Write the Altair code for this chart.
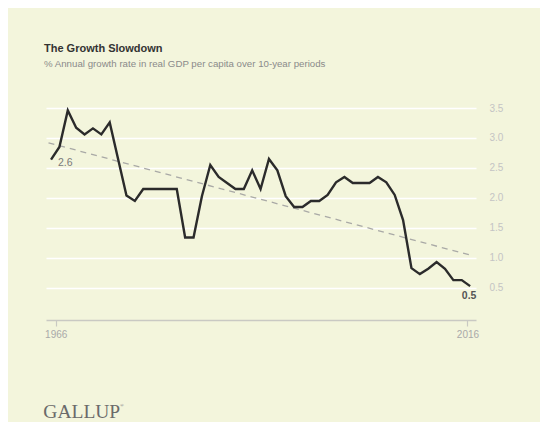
import altair as alt
import pandas as pd

years = list(range(1966, 2017))
growth = [2.64, 2.85, 3.46, 3.17, 3.06, 3.16, 3.06, 3.26, 2.65, 2.04,
          1.95, 2.15, 2.15, 2.15, 2.15, 2.15, 1.34, 1.34, 2.03, 2.55,
          2.35, 2.25, 2.15, 2.15, 2.46, 2.15, 2.65, 2.46, 2.03, 1.85,
          1.85, 1.95, 1.95, 2.05, 2.26, 2.35, 2.25, 2.25, 2.25, 2.35,
          2.26, 2.05, 1.63, 0.83, 0.73, 0.82, 0.93, 0.82, 0.63, 0.63,
          0.53]

trend_years = [1965.7, 2016.2]
trend_values = [2.92, 1.04]

note_years = [1966, 2016]
note_values = [2.64, 0.53]
note_labels = ["2.6", "0.5"]

y_ticks = [0.5, 1.0, 1.5, 2.0, 2.5, 3.0, 3.5]
x_tick_positions = [1966.56, 2015.68]

TITLE = "The Growth Slowdown"
SUBTITLE = "% Annual growth rate in real GDP per capita over 10-year periods"
BG = "#f3f5dc"
FONT = "Liberation Sans"

df = pd.DataFrame({"year": years, "growth": growth})
trend = pd.DataFrame({"year": trend_years, "growth": trend_values})
notes = pd.DataFrame({"year": note_years, "growth": note_values, "label": note_labels})
one = pd.DataFrame({"k": [0]})

xscale = alt.Scale(domain=[1965.4, 2016.7], nice=False, zero=False)
yscale = alt.Scale(domain=[-0.035, 3.5], nice=False, zero=False)

x_axis = alt.Axis(
    values=x_tick_positions,
    labelExpr="datum.value < 1990 ? '1966' : '2016'",
    title=None, grid=False, domainColor="#c9c9c3", domainWidth=1.5,
    tickColor="#c9c9c3", tickWidth=1.2, tickSize=6, labelColor="#a9a9a9",
    labelFontSize=10, labelFont=FONT, labelPadding=3, labelFlush=False,
    labelOverlap=False,
)
y_axis = alt.Axis(
    orient="right", values=y_ticks, format=".1f", title=None,
    domain=False, ticks=False, grid=True, gridColor="#ffffff", gridWidth=1.6,
    labelColor="#c4c4c4", labelFontSize=10, labelFont=FONT, labelPadding=13,
    labelOverlap=False, labelFlush=False,
)

X = alt.X("year:Q", scale=xscale, axis=x_axis)
Y = alt.Y("growth:Q", scale=yscale, axis=y_axis)

trend_line = alt.Chart(trend).mark_line(
    color="#a9a9a6", strokeWidth=1.3, strokeDash=[6, 5]
).encode(x=X, y=Y)

line = alt.Chart(df).mark_line(color="#2b2b2b", strokeWidth=2.4).encode(x=X, y=Y)

note_first = alt.Chart(notes.iloc[[0]]).mark_text(
    align="left", baseline="middle", dx=7, dy=3, fontSize=10.5, font=FONT,
    color="#7a7a7a",
).encode(x=X, y=Y, text="label:N")

note_last = alt.Chart(notes.iloc[[1]]).mark_text(
    align="center", baseline="middle", dx=-1, dy=10, fontSize=10.5, font=FONT,
    color="#555555", fontWeight="bold",
).encode(x=X, y=Y, text="label:N")

title = alt.Chart(one).mark_text(
    align="left", baseline="alphabetic", fontSize=11, fontWeight="bold",
    font=FONT, color="#333333",
).encode(x=alt.value(-2), y=alt.value(-56), text=alt.value(TITLE))

subtitle = alt.Chart(one).mark_text(
    align="left", baseline="alphabetic", fontSize=9.7, font=FONT, color="#8a8a8a",
).encode(x=alt.value(-2), y=alt.value(-41.5), text=alt.value(SUBTITLE))

logo = alt.Chart(one).mark_text(
    align="left", baseline="alphabetic", fontSize=19.5, font="Liberation Serif",
    color="#6a6a6a",
).encode(x=alt.value(-2.7), y=alt.value(309.5), text=alt.value("GALLUP"))

logo_mark = alt.Chart(one).mark_text(
    align="left", baseline="alphabetic", fontSize=5, font="Liberation Serif",
    color="#6a6a6a",
).encode(x=alt.value(74), y=alt.value(299), text=alt.value("®"))

chart = alt.layer(
    trend_line, line, note_first, note_last, title, subtitle, logo, logo_mark
).properties(
    width=430, height=212,
    autosize=alt.AutoSizeParams(type="none"),
    padding={"left": 38, "top": 100, "right": 64, "bottom": 102},
    background=BG,
).configure_view(stroke=None).configure_axis(labelFont=FONT)

chart.save("out.html", embed_options={"renderer": "svg", "actions": False})
